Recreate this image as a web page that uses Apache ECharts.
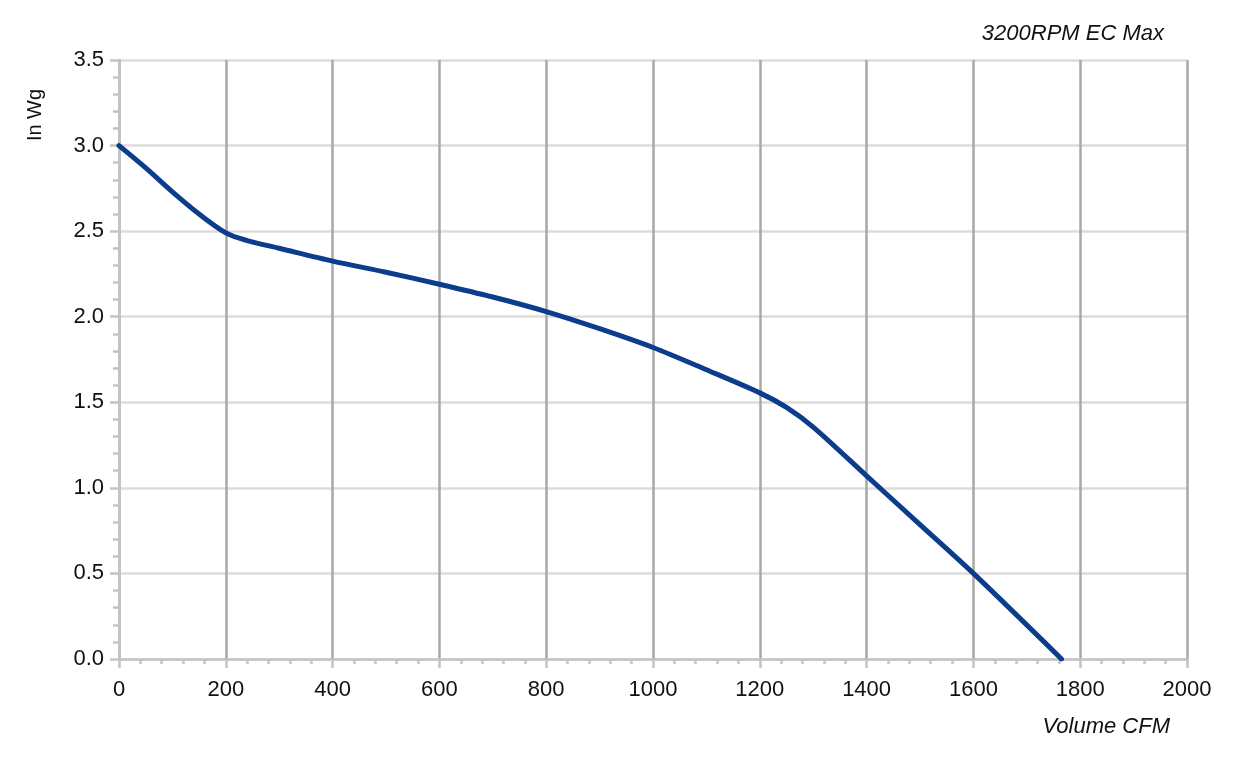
<!DOCTYPE html>
<html><head><meta charset="utf-8">
<script src="https://cdn.jsdelivr.net/npm/echarts@6/dist/echarts.min.js"></script>
<style>html,body{margin:0;padding:0;background:#fff}#c{width:1233px;height:757px}</style>
</head><body><div id="c"></div>
<script>
const volumeCFM = [0, 50, 100, 150, 200, 240, 300, 400, 500, 600, 700, 800, 900, 1000, 1100, 1200, 1250, 1300, 1400, 1500, 1600, 1765];
const pressureInWg = [3.0, 2.87, 2.73, 2.6, 2.49, 2.445, 2.40, 2.325, 2.26, 2.19, 2.115, 2.03, 1.93, 1.82, 1.69, 1.555, 1.47, 1.355, 1.07, 0.785, 0.50, 0.0];
const xTicks = [0, 200, 400, 600, 800, 1000, 1200, 1400, 1600, 1800, 2000];
const yTicks = [0.0, 0.5, 1.0, 1.5, 2.0, 2.5, 3.0, 3.5];
const chartTitle = '3200RPM EC Max';
const xName = 'Volume CFM';
const yName = 'In Wg';

const font = '"Liberation Sans", Arial, sans-serif';
const chart = echarts.init(document.getElementById('c'), null, {renderer: 'canvas'});
chart.setOption({
  animation: false,
  backgroundColor: '#fff',
  grid: {left: 119, right: 46, top: 60, bottom: 98, containLabel: false},
  title: [
    {text: chartTitle, right: 64, top: 18, textStyle: {fontFamily: font, fontSize: 22, fontStyle: 'italic', fontWeight: 'normal', color: '#111'}},
    {text: xName, right: 58, top: 711, textStyle: {fontFamily: font, fontSize: 22, fontStyle: 'italic', fontWeight: 'normal', color: '#111'}}
  ],
  graphic: [{
    type: 'text', x: 35, y: 115, rotation: Math.PI / 2,
    style: {text: yName, fontFamily: font, fontSize: 20, fill: '#111', textAlign: 'center', textVerticalAlign: 'middle'}
  }],
  xAxis: {
    type: 'value', min: xTicks[0], max: xTicks[xTicks.length - 1], interval: 200,
    axisLine: {show: true, lineStyle: {color: '#c4c4c4', width: 2.5}},
    axisTick: {show: true, length: 9, lineStyle: {color: '#c4c4c4', width: 2.5}},
    minorTick: {show: true, splitNumber: 5, length: 5, lineStyle: {color: '#c4c4c4', width: 2.5}},
    axisLabel: {fontFamily: font, fontSize: 22, color: '#111', margin: 20, formatter: v => String(v)},
    splitLine: {show: true, lineStyle: {color: '#a8a8a8', width: 2.5}}
  },
  yAxis: {
    type: 'value', min: yTicks[0], max: yTicks[yTicks.length - 1], interval: 0.5,
    axisLine: {show: true, lineStyle: {color: '#c4c4c4', width: 2.5}},
    axisTick: {show: true, length: 9, lineStyle: {color: '#c4c4c4', width: 2.5}},
    minorTick: {show: true, splitNumber: 5, length: 6, lineStyle: {color: '#c4c4c4', width: 2.5}},
    axisLabel: {fontFamily: font, fontSize: 22, color: '#111', margin: 15, formatter: v => v.toFixed(1)},
    splitLine: {show: true, lineStyle: {color: '#dcdcdc', width: 2.5}}
  },
  series: [{
    type: 'line',
    data: volumeCFM.map((v, i) => [v, pressureInWg[i]]),
    smooth: 0.3,
    showSymbol: false,
    lineStyle: {color: '#0b3d8c', width: 5, cap: 'round', join: 'round'},
    itemStyle: {color: '#0b3d8c'}
  }]
});
</script></body></html>
